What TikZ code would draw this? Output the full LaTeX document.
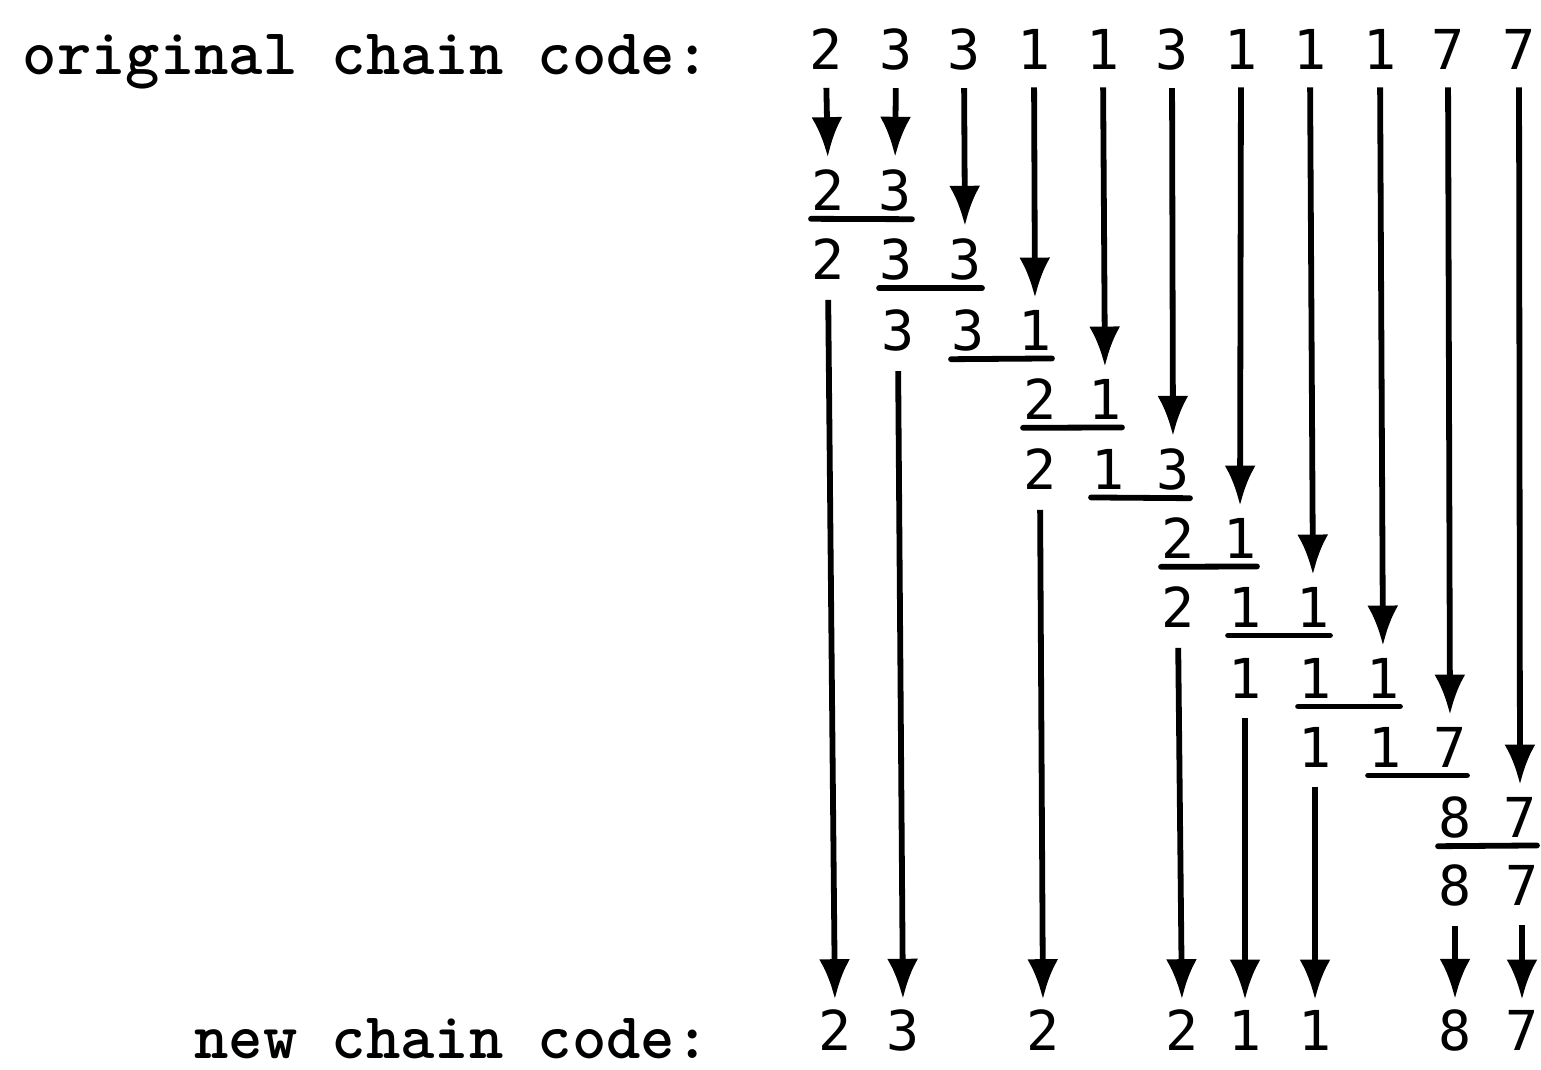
\documentclass[tikz,border=0pt]{standalone}
\usepackage{fontspec}
\usetikzlibrary{arrows.meta}
\newfontfamily\digitfont{DejaVu Sans Mono}
\begin{document}
\begin{tikzpicture}[x=0.5pt,y=-0.5pt,
  dig/.style={font=\digitfont\fontsize{27.5}{30}\selectfont, inner sep=0pt},
  lab/.style={font=\ttfamily\bfseries\fontsize{32.7}{36}\selectfont, inner sep=0pt, anchor=base east},
  arr/.style={line width=2.9pt, -{Latex[length=20pt,width=15.5pt]}, shorten <=9pt, shorten >=6pt},
  arrb/.style={arr, shorten <=10pt, shorten >=5pt},
  ul/.style={line width=2.9pt, line cap=round}]
\fill[white] (0,0) rectangle (1541,1070);
\useasboundingbox (0,0) rectangle (1541,1070);
% labels
\node[lab] (orig) at (710,75) {original chain code:};
\node[lab] (new) at (710,1058) {new chain code:};
% top row
\foreach \i/\x/\d in {0/826/2,1/896/3,2/964/3,3/1034/1,4/1103/1,5/1172/3,6/1241/1,7/1310/1,8/1380/1,9/1448/7,10/1519/7}
  \node[dig] (t\i) at (\x,49) {\d};
% intermediate rows
\node[dig] (r1c0) at (828,190) {2};
\node[dig] (r1c1) at (895,190) {3};
\node[dig] (r2c0) at (828,259) {2};
\node[dig] (r2c1) at (896,259) {3};
\node[dig] (r2c2) at (965,259) {3};
\node[dig] (r3c1) at (898,330) {3};
\node[dig] (r3c2) at (968,330) {3};
\node[dig] (r3c3) at (1035,330) {1};
\node[dig] (r4c3) at (1040,399) {2};
\node[dig] (r4c4) at (1105,399) {1};
\node[dig] (r5c3) at (1040,469) {2};
\node[dig] (r5c4) at (1108,469) {1};
\node[dig] (r5c5) at (1173,469) {3};
\node[dig] (r6c5) at (1178,538) {2};
\node[dig] (r6c6) at (1240,538) {1};
\node[dig] (r7c5) at (1178,607) {2};
\node[dig] (r7c6) at (1245,607) {1};
\node[dig] (r7c7) at (1313,607) {1};
\node[dig] (r8c6) at (1245,678) {1};
\node[dig] (r8c7) at (1315,678) {1};
\node[dig] (r8c8) at (1383,678) {1};
\node[dig] (r9c7) at (1315,747) {1};
\node[dig] (r9c8) at (1385,747) {1};
\node[dig] (r9c9) at (1450,747) {7};
\node[dig] (r10c9) at (1455,817) {8};
\node[dig] (r10c10) at (1520,817) {7};
\node[dig] (r11c9) at (1455,885) {8};
\node[dig] (r11c10) at (1522,885) {7};
% final row
\foreach \i/\x/\d in {0/835/2,1/903/3,3/1043/2,5/1182/2,6/1245/1,7/1315/1,9/1455/8,10/1522/7}
  \node[dig] (f\i) at (\x,1030) {\d};
% underlines
\foreach \r/\a/\b in {1/0/1,2/1/2,3/2/3,4/3/4,5/4/5,6/5/6,7/6/7,8/7/8,9/8/9,10/9/10}
  \draw[ul] ([yshift=-4pt]r\r c\a.south west) -- ([yshift=-4pt]r\r c\b.south east);
% arrows from the original code
\foreach \c/\r in {0/1,1/1,2/2,3/3,4/4,5/5,6/6,7/7,8/8,9/9,10/10}
  \draw[arr] (t\c.south) -- (r\r c\c.north);
% arrows to the new code
\foreach \r/\c in {2/0,3/1,5/3,7/5,8/6,9/7,11/9,11/10}
  \draw[arrb] (r\r c\c.south) -- (f\c.north);
\end{tikzpicture}
\end{document}
